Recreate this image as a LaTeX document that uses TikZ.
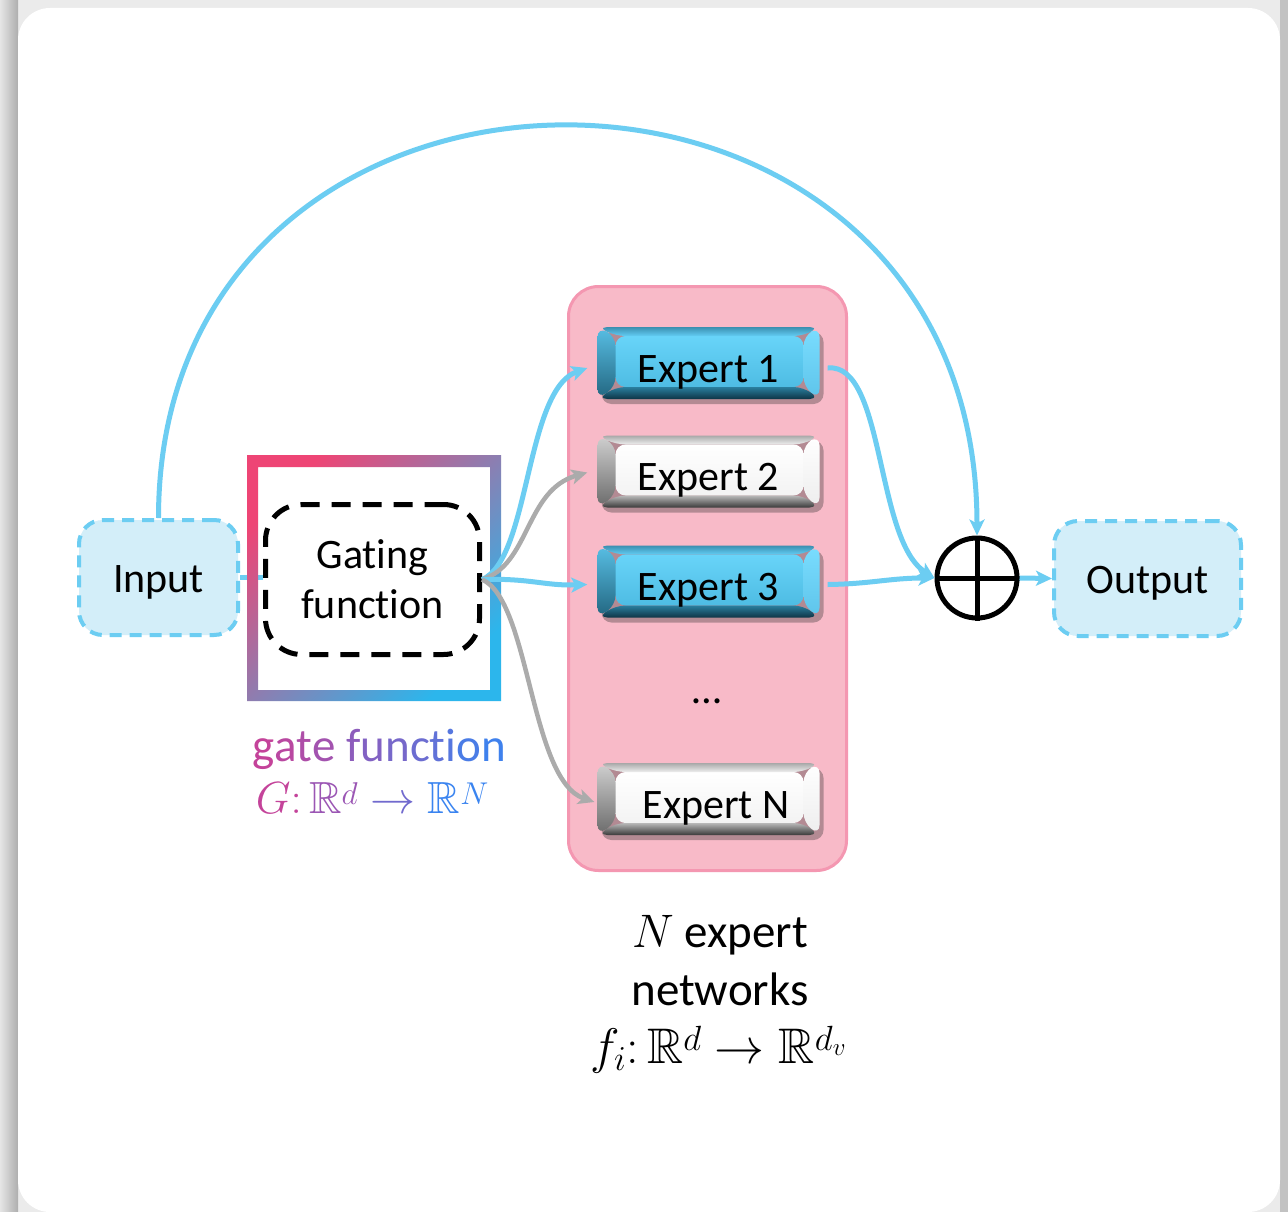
\documentclass[tikz,border=0pt]{standalone}
\usepackage{fix-cm}
\usepackage{amssymb}
\usepackage{fontspec}
\setmainfont{Carlito}[Ligatures=CommonOff]
\usetikzlibrary{arrows.meta,shadows,calc}
\definecolor{lblue}{HTML}{6CCDF2}
\definecolor{lbfill}{HTML}{D3EEF9}
\definecolor{garrow}{HTML}{ABABAB}
\definecolor{pinkfill}{HTML}{F8BAC8}
\definecolor{pinkedge}{HTML}{F497B1}
\definecolor{gpink}{HTML}{EE4575}
\definecolor{gblue}{HTML}{2CB6EC}
\definecolor{tmag}{HTML}{C4439A}
\definecolor{tblue}{HTML}{3A84F0}
% blue bevel colours
\definecolor{bF1}{HTML}{68D4F9}\definecolor{bF2}{HTML}{4EBCE3}
\definecolor{bT1}{HTML}{3B8FB0}\definecolor{bT2}{HTML}{62CDF4}
\definecolor{bB1}{HTML}{2A7E9E}\definecolor{bB2}{HTML}{0E3546}
\definecolor{bL1}{HTML}{58BFE5}\definecolor{bL2}{HTML}{22657F}
\definecolor{bR1}{HTML}{7ADDFF}\definecolor{bR2}{HTML}{5EC4EA}
% white bevel colours
\definecolor{wF1}{HTML}{FFFFFF}\definecolor{wF2}{HTML}{F3F3F3}
\definecolor{wT1}{HTML}{A8A8A8}\definecolor{wT2}{HTML}{EFEFEF}
\definecolor{wB1}{HTML}{B8B8B8}\definecolor{wB2}{HTML}{3A3A3A}
\definecolor{wL1}{HTML}{D0D0D0}\definecolor{wL2}{HTML}{6A6A6A}
\definecolor{wR1}{HTML}{FFFFFF}\definecolor{wR2}{HTML}{EDEDED}
\newcommand\bevelfill[1]{%
  \path (path picture bounding box.north west) coordinate (NW)
        (path picture bounding box.north east) coordinate (NE)
        (path picture bounding box.south west) coordinate (SW)
        (path picture bounding box.south east) coordinate (SE);
  \path ($(NW)+(18pt,-9pt)$) coordinate (nw) ($(NE)+(-16pt,-9pt)$) coordinate (ne)
        ($(SW)+(18pt,12pt)$) coordinate (sw) ($(SE)+(-16pt,12pt)$) coordinate (se);
  \shade[top color=#1F1, bottom color=#1F2] (nw) rectangle (se);
  \shade[top color=#1T1, bottom color=#1T2] (NW)--(NE)--(ne)--(nw)--cycle;
  \shade[top color=#1B1, bottom color=#1B2] (sw)--(se)--(SE)--(SW)--cycle;
  \shade[top color=#1L1, bottom color=#1L2] (NW)--(nw)--(sw)--(SW)--cycle;
  \shade[top color=#1R1, bottom color=#1R2] (NE)--(ne)--(se)--(SE)--cycle;
}
\newcommand\gatefn{{\color{tmag}g}{\color{tmag!92!tblue}a}{\color{tmag!84!tblue}t}{\color{tmag!76!tblue}e} {\color{tmag!60!tblue}f}{\color{tmag!52!tblue}u}{\color{tmag!44!tblue}n}{\color{tmag!36!tblue}c}{\color{tmag!28!tblue}t}{\color{tmag!20!tblue}i}{\color{tmag!12!tblue}o}{\color{tmag!4!tblue}n}}
\newcommand\supr[2]{\raisebox{#1}{$\scriptstyle #2$}}
\begin{document}
\begin{tikzpicture}[x=1pt,y=-1pt,line join=round,
  txt/.style={font=\fontsize{42}{50}\selectfont, inner sep=0pt},
  ltxt/.style={font=\fontsize{47}{50}\selectfont, inner sep=0pt},
  lbbox/.style={draw=lblue, fill=lbfill, line width=4pt, dash pattern=on 12pt off 8pt,
    rounded corners=24pt, inner sep=0pt, text height=29pt, text depth=0pt, txt},
  gatebox/.style={draw=black, line width=5pt, dash pattern=on 19pt off 12pt, rounded corners=36pt,
    minimum width=214pt, minimum height=150pt, inner sep=0pt, align=center, txt},
  panel/.style={draw=pinkedge, fill=pinkfill, line width=3pt, rounded corners=30pt,
    minimum width=278pt, minimum height=584pt, inner sep=0pt},
  expert/.style={minimum width=222pt, minimum height=72pt, inner sep=0pt, rounded corners=10pt,
    text height=38pt, text depth=0pt, txt,
    drop shadow={shadow xshift=4pt, shadow yshift=-5pt, opacity=.35, fill=black!80}},
  bluebev/.style={expert, path picture={\bevelfill{b}}},
  whitebev/.style={expert, path picture={\bevelfill{w}}},
  tip/.style={-{Stealth[length=16pt,width=15pt,inset=4pt]}},
  bline/.style={draw=lblue, line width=5pt, tip},
  gline/.style={draw=garrow, line width=4.5pt, tip}]
% background card
\useasboundingbox (0,0) rectangle (1288,1212);
\fill[black!8] (0,0) rectangle (1288,1212);
\shade[left color=black!10, right color=black!32] (0,0) rectangle (18,1212);
\fill[black!24] (1280,0) rectangle (1288,1212);
\fill[white, rounded corners=32pt] (18,8) rectangle (1280,1212);
% expert panel
\node[panel] (panel) at (707.5,578.5) {};
\node[bluebev] (e1) at (708.5,363) {Expert 1};
\node[whitebev] (e2) at (708.5,471.5) {Expert 2};
\node[bluebev] (e3) at (708.5,581.5) {Expert 3};
\node[txt, anchor=base] (dots) at (707,703) {…};
\node[whitebev] (eN) at (708.5,799) {\hspace*{15pt}Expert N};
% input / output / gate
\node[lbbox, minimum width=159pt, minimum height=115pt] (in) at (158.5,577.5) {Input};
\node[lbbox, minimum width=187pt, minimum height=115pt] (out) at (1147.5,578.5) {Output};
\node[gatebox] (gf) at (372.5,579.5) {Gating\\function};
\draw[bline, -] (in.east) -- (in.east -| gf.west);
\shade[even odd rule, top color=gpink, bottom color=gblue, shading angle=45]
  (247,455) rectangle (501,701) (258,467) rectangle (490,690);
\node[circle, draw, line width=5pt, minimum size=80pt, inner sep=0pt] (plus) at (977,578) {};
\draw[line width=5pt] (plus.north) -- (plus.south) (plus.west) -- (plus.east);
% connectors
\draw[bline] (in.north) .. controls +(0,-525) and +(0,-543) .. (plus.north);
\draw[bline] (gf.east) .. controls (530,560) and (525,390) .. ([shift={(-10pt,-5pt)}]e1.west);
\draw[gline] (gf.east) .. controls (530,565) and (525,490) .. ([shift={(-10pt,-1pt)}]e2.west);
\draw[bline] (gf.east) .. controls (530,578) and (545,586) .. ([shift={(-10pt,-3pt)}]e3.west);
\draw[gline] (gf.east) .. controls (530,600) and (530,780) .. ([shift={(-3pt,-3pt)}]eN.west);
\draw[bline] ([shift={(8pt,-5pt)}]e1.east) .. controls (885,362) and (875,540) .. (plus.west);
\draw[bline] ([shift={(8pt,-3pt)}]e3.east) .. controls (870,584) and (890,578) .. (plus.west);
\draw[bline] (plus.east) -- (out.west);
% labels
\node[ltxt, anchor=base] (gatelbl) at (379,761) {\gatefn};
\node[font=\fontsize{45}{50}\selectfont, inner sep=0pt, anchor=base] (gatemath) at (372,813)
  {$\color{tmag}G\colon\color{tmag!70!tblue}\mathbb{R}\supr{9pt}{d}\color{tmag!40!tblue}\to\color{tblue}\mathbb{R}\supr{9pt}{N}$};
\node[ltxt, anchor=base] (nexp) at (720,947) {$N$ expert};
\node[ltxt, anchor=base] (netw) at (720,1005) {networks};
\node[font=\fontsize{50}{56}\selectfont, inner sep=0pt, anchor=base] (fmath) at (718,1063)
  {$f_i\colon\mathbb{R}\supr{13pt}{d}\to\mathbb{R}\supr{13pt}{d_v}$};
\end{tikzpicture}
\end{document}
